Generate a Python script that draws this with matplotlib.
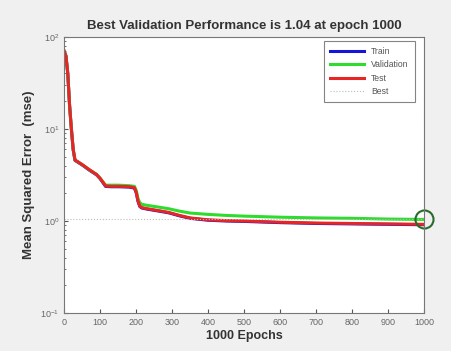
import matplotlib
matplotlib.use("Agg")
from matplotlib import pyplot as plt

# epoch values and performance curves
epochs = [0, 5, 10, 15, 20, 25, 30, 50, 70, 90, 100, 115, 130, 150, 180,
          195, 200, 205, 210, 215, 230, 260, 290, 320, 350, 400, 450, 500,
          600, 700, 800, 900, 1000]
val = [70, 62, 40, 18, 10, 6.0, 4.6, 4.1, 3.6, 3.2, 2.9, 2.45, 2.45, 2.45,
       2.42, 2.38, 2.15, 1.75, 1.58, 1.52, 1.48, 1.42, 1.36, 1.28, 1.22,
       1.18, 1.15, 1.13, 1.10, 1.08, 1.07, 1.05, 1.04]
test = [70, 62, 40, 18, 10, 6.0, 4.6, 4.1, 3.6, 3.2, 2.9, 2.40, 2.38, 2.38,
        2.36, 2.30, 2.05, 1.65, 1.45, 1.40, 1.36, 1.30, 1.24, 1.15, 1.08,
        1.03, 1.01, 1.00, 0.97, 0.95, 0.94, 0.93, 0.92]
train = [v * 0.99 for v in test]
best_epoch = 1000
best_perf = 1.04

plt.rcParams['font.family'] = ['Liberation Sans', 'DejaVu Sans']
fig = plt.figure(figsize=(4.52, 3.51), dpi=100, facecolor='#f0f0f0')
ax = fig.add_axes([0.142, 0.108, 0.797, 0.787])

ax.plot(epochs, train, color='#1515d8', linewidth=2.2, label='Train')
ax.plot(epochs, val, color='#2edc2e', linewidth=2.2, label='Validation')
ax.plot(epochs, test, color='#e82424', linewidth=2.2, label='Test')
ax.plot([0, best_epoch], [best_perf, best_perf], ':', color='#bbbbbb',
        linewidth=0.8, label='Best')
ax.plot([best_epoch, best_epoch], [0.1, 100], ':', color='#bbbbbb', linewidth=0.8)
ax.plot(best_epoch, best_perf, 'o', markersize=13, markerfacecolor='none',
        markeredgecolor='#2a6a2a', markeredgewidth=1.5, clip_on=False)

ax.set_yscale('log')
ax.set_xlim(0, 1000)
ax.set_ylim(0.1, 100)
ax.set_xticks(range(0, 1001, 100))
ax.tick_params(which='both', direction='in', labelsize=6.5, colors='#555555',
               labelcolor='#666666')
ax.tick_params(which='major', length=3)
ax.tick_params(which='minor', length=1.5)
for s in ax.spines.values():
    s.set_color('#777777')
    s.set_linewidth(0.8)

ax.set_title('Best Validation Performance is 1.04 at epoch 1000',
             fontsize=9.5, fontweight='bold', color='#333333', pad=6)
ax.set_xlabel('1000 Epochs', fontsize=9, fontweight='bold', color='#333333',
              labelpad=2)
ax.set_ylabel('Mean Squared Error  (mse)', fontsize=9.5, fontweight='bold',
              color='#333333', labelpad=4)

leg = ax.legend(loc='upper right', fontsize=6.2, frameon=True, fancybox=False,
                edgecolor='#666666', handlelength=4.0, borderpad=0.7,
                labelspacing=0.5, bbox_to_anchor=(0.985, 1.0))
leg.get_frame().set_linewidth(0.8)
for t in leg.get_texts():
    t.set_color('#555555')

fig.savefig('out.png', dpi=100, facecolor=fig.get_facecolor())
